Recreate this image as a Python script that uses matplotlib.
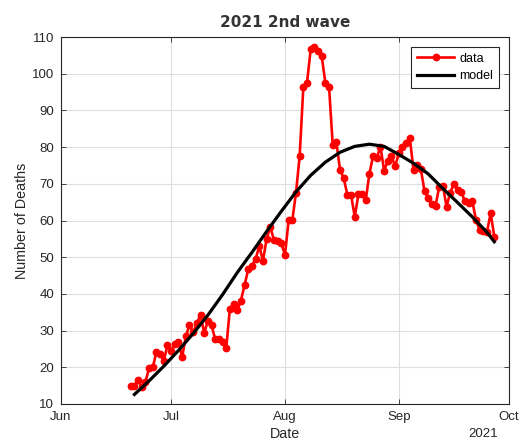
import matplotlib
matplotlib.use("Agg")
import matplotlib.pyplot as plt
import matplotlib.dates as mdates
import pandas as pd

# Daily reported deaths, starting 20 June 2021
start_date = "2021-06-20"
deaths = [15, 15, 16.6, 14.5, 16, 19.8, 20, 24.2, 23.5, 21.8,
          26, 24.5, 26.3, 27, 22.7, 28.5, 31.5, 29.5, 32, 34.3,
          29.3, 32.7, 31.5, 27.6, 27.8, 27, 25.2, 36, 37.2, 35.5,
          38.2, 42.4, 46.7, 47.7, 49.5, 53, 49, 55, 58.3, 54.6,
          54.5, 53.8, 50.6, 60.1, 60.1, 67.5, 77.6, 96.3, 97.6, 106.6,
          107.3, 106.2, 104.8, 97.5, 96.5, 80.6, 81.3, 73.8, 71.5, 67,
          67, 61, 67.1, 67.2, 65.6, 72.8, 77.6, 77.1, 80.1, 73.6,
          76.2, 77.5, 74.8, 78.3, 80, 81.1, 82.4, 73.8, 75.2, 74,
          68, 66.1, 64.5, 64, 69.2, 69.5, 63.8, 67.6, 70, 68.3,
          67.9, 65.2, 64.8, 65.4, 60.2, 57.5, 57.2, 56.8, 62, 55.6]

# Fitted model curve
model_dates = ["2021-06-21", "2021-06-25", "2021-06-29", "2021-07-03", "2021-07-07",
               "2021-07-11", "2021-07-15", "2021-07-19", "2021-07-23", "2021-07-27",
               "2021-07-31", "2021-08-04", "2021-08-08", "2021-08-12", "2021-08-16",
               "2021-08-20", "2021-08-24", "2021-08-28", "2021-09-01", "2021-09-05",
               "2021-09-09", "2021-09-13", "2021-09-17", "2021-09-21", "2021-09-25",
               "2021-09-27"]
model = [12.6, 16.3, 20.3, 24.6, 29.2, 34.2, 39.8, 45.8, 51.3, 57.0,
         62.5, 67.8, 72.3, 75.9, 78.6, 80.2, 80.8, 80.2, 78.0, 75.6,
         72.7, 68.7, 64.9, 61.0, 56.8, 54.2]

month_ticks = ["2021-06-01", "2021-07-01", "2021-08-01", "2021-09-01", "2021-10-01"]
y_ticks = [10, 20, 30, 40, 50, 60, 70, 80, 90, 100, 110]

data_dates = pd.date_range(start_date, periods=len(deaths), freq="D")
model_dt = pd.to_datetime(model_dates)
tick_dt = pd.to_datetime(month_ticks)

ink = "#262626"
plt.rcParams["font.family"] = ["Liberation Sans", "DejaVu Sans"]

fig = plt.figure(figsize=(5.27, 4.46), dpi=100)
ax = fig.add_axes([0.1157, 0.0942, 0.9658 - 0.1157, 0.917 - 0.0942])

ax.plot(data_dates, deaths, color="#ff0000", lw=1.9, marker="o", ms=4.6,
        label="data", zorder=3)
ax.plot(model_dt, model, color="black", lw=2.3, label="model", zorder=4)

ax.set_xlim(tick_dt[0], tick_dt[-1])
ax.set_ylim(10, 110)
ax.set_xticks(tick_dt)
ax.xaxis.set_major_formatter(mdates.DateFormatter("%b"))
ax.set_yticks(y_ticks)

ax.grid(True, color="#dedede", lw=0.8)
ax.set_axisbelow(True)
ax.tick_params(direction="in", length=3.5, width=0.6, colors=ink,
               labelsize=9.5, top=True, right=True, pad=5)
for side in ax.spines.values():
    side.set_color(ink)
    side.set_linewidth(0.8)

ax.set_xlabel("Date", fontsize=10.3, color=ink, labelpad=3)
ax.set_ylabel("Number of Deaths", fontsize=10.3, color=ink, labelpad=2)
ax.set_title("2021 2nd wave", fontsize=11, fontweight="bold", color="#333333",
             family="DejaVu Sans", pad=7)
fig.text(0.917, 0.013, "2021", fontsize=9.5, color=ink, ha="center", va="bottom")

leg = ax.legend(loc="upper right", fontsize=9, frameon=True, fancybox=False,
                edgecolor=ink, framealpha=1, handlelength=3.0, borderpad=0.45,
                labelspacing=0.45, handletextpad=0.4, borderaxespad=0.8)
leg.get_frame().set_linewidth(0.8)

fig.savefig("out.png", dpi=100)
